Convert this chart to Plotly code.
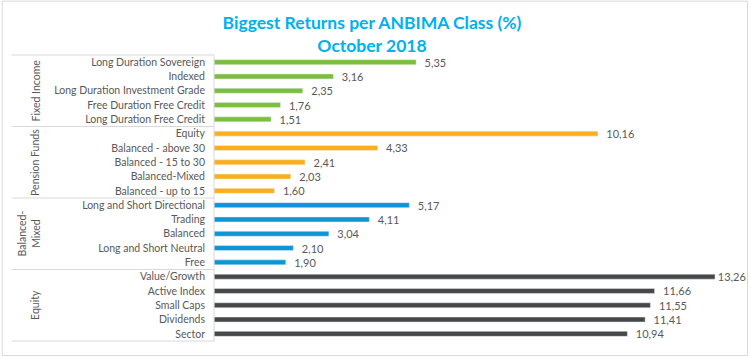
import plotly.graph_objects as go

# ---- data ----
groups = ["Fixed Income", "Pension Funds", "Balanced-<br>Mixed", "Equity"]
fixed_income_cats = ["Long Duration Sovereign", "Indexed", "Long Duration Investment Grade",
                     "Free Duration Free Credit", "Long Duration Free Credit"]
fixed_income_vals = [5.35, 3.16, 2.35, 1.76, 1.51]
pension_cats = ["Equity", "Balanced - above 30", "Balanced - 15 to 30", "Balanced-Mixed", "Balanced - up to 15"]
pension_vals = [10.16, 4.33, 2.41, 2.03, 1.60]
balanced_cats = ["Long and Short Directional", "Trading", "Balanced", "Long and Short Neutral", "Free"]
balanced_vals = [5.17, 4.11, 3.04, 2.10, 1.90]
equity_cats = ["Value/Growth", "Active Index", "Small Caps", "Dividends", "Sector"]
equity_vals = [13.26, 11.66, 11.55, 11.41, 10.94]

group_cats = [fixed_income_cats, pension_cats, balanced_cats, equity_cats]
group_vals = [fixed_income_vals, pension_vals, balanced_vals, equity_vals]
colors = ["#7DBE3F", "#FDAF1B", "#0E95D8", "#474747"]

W, H = 750, 357
ML, MR, MT, MB = 213.5, 7, 55.3, 16
TXT = "#595959"
FONT = "Lato"
FS = 10.5
XMAX = 14

all_cats = [c for cats in group_cats for c in cats]
n = len(all_cats)

def label(v):
    pad = "\u00a0" if v > XMAX - 1 else "\u00a0\u00a0\u00a0"
    return pad + f"{v:.2f}".replace(".", ",")

fig = go.Figure()
for cats, vals, col in zip(group_cats, group_vals, colors):
    fig.add_trace(go.Bar(
        x=vals, y=cats, orientation="h", marker_color=col,
        text=[label(v) for v in vals], textposition="outside",
        textfont=dict(color=TXT, size=FS + 0.5, family=FONT),
        cliponaxis=False, constraintext="none", showlegend=False,
        hoverinfo="skip",
    ))

pw = W - ML - MR
ph = H - MT - MB
def px_x(p):
    return (p - ML) / pw
def px_y(p):
    return 1 - (p - MT) / ph

shapes = []
line_col = "#D9D9D9"
for k in range(len(groups) + 1):
    yk = 1 - k * 5 / n
    shapes.append(dict(type="line", xref="paper", yref="paper",
                       x0=px_x(11), x1=0, y0=yk, y1=yk,
                       line=dict(color=line_col, width=1)))
shapes.append(dict(type="line", xref="paper", yref="paper", x0=0, x1=0, y0=0, y1=1,
                   line=dict(color=line_col, width=1)))
shapes.append(dict(type="rect", xref="paper", yref="paper",
                   x0=px_x(1.5), x1=px_x(747.5), y0=px_y(355.5), y1=px_y(1.5),
                   line=dict(color="#D9D9D9", width=1)))

annotations = []
for k, g in enumerate(groups):
    yc = 1 - (k * 5 + 2.5) / n
    xc = 28 if "<br>" in g else 35
    annotations.append(dict(text=g, xref="paper", yref="paper", x=px_x(xc), y=yc,
                            textangle=-90, showarrow=False, xanchor="center", yanchor="middle",
                            font=dict(color=TXT, size=FS, family=FONT)))

fig.update_layout(
    width=W, height=H,
    margin=dict(l=ML, r=MR, t=MT, b=MB, autoexpand=False),
    paper_bgcolor="white", plot_bgcolor="white",
    bargap=0.65,
    title=dict(text="<b>Biggest Returns per ANBIMA Class (%)<br>October 2018</b>",
               x=0.496, xref="container", xanchor="center",
               y=1 - 29 / H, yref="container", yanchor="middle",
               font=dict(color="#00B0F0", size=17.5, family=FONT)),
    xaxis=dict(range=[0, XMAX], visible=False, showgrid=False, zeroline=False),
    yaxis=dict(categoryorder="array", categoryarray=all_cats, autorange="reversed",
               showgrid=False, zeroline=False, showline=False, ticks="",
               ticklabelstandoff=8,
               tickfont=dict(color=TXT, size=FS, family=FONT)),
    shapes=shapes, annotations=annotations,
    font=dict(family=FONT, color=TXT),
)

fig.write_html("out.html", config={"displayModeBar": False},
               post_script="document.body.style.margin='0';document.body.style.overflow='hidden';")
